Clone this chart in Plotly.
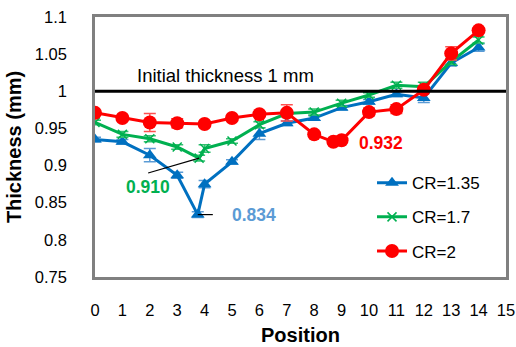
import plotly.graph_objects as go

# ---- data ----
x_135 = [0, 1, 2, 3, 3.75, 4, 5, 6, 7, 8, 9, 10, 11, 12, 13, 14]
y_135 = [0.935, 0.932, 0.914, 0.887, 0.834, 0.875, 0.905, 0.943, 0.957, 0.964,
         0.978, 0.986, 0.996, 0.991, 1.038, 1.059]
e_135 = [0.003, 0.003, 0.009, 0.004, 0.004, 0.005, 0.003, 0.008, 0.003, 0.003,
         0.003, 0.003, 0.003, 0.006, 0.004, 0.005]

x_17 = [0, 1, 2, 3, 3.8, 4, 5, 6, 7, 8, 9, 10, 11, 12, 13, 14]
y_17 = [0.958, 0.942, 0.936, 0.925, 0.910, 0.923, 0.933, 0.955, 0.970, 0.972,
        0.984, 0.995, 1.008, 1.006, 1.040, 1.069]
e_17 = [0.003, 0.004, 0.004, 0.003, 0.004, 0.005, 0.003, 0.004, 0.004, 0.004,
        0.004, 0.003, 0.004, 0.006, 0.004, 0.004]

x_2 = [0, 1, 2, 3, 4, 5, 6, 7, 8, 8.7, 9, 10, 11, 12, 13, 14]
y_2 = [0.971, 0.964, 0.958, 0.957, 0.956, 0.964, 0.969, 0.971, 0.942, 0.932,
       0.934, 0.972, 0.976, 1.002, 1.051, 1.082]
e_2 = [0.002, 0.002, 0.012, 0.006, 0.002, 0.002, 0.003, 0.011, 0.003, 0.003,
       0.003, 0.005, 0.006, 0.003, 0.009, 0.003]

series_names = ["CR=1.35", "CR=1.7", "CR=2"]
initial_thickness = 1.0
x_ticks = list(range(0, 16))
y_ticks = [0.75, 0.8, 0.85, 0.9, 0.95, 1, 1.05, 1.1]
y_tick_text = ["0.75", "0.8", "0.85", "0.9", "0.95", "1", "1.05", "1.1"]
x_title = "Position"
y_title = "Thickness (mm)"

FONT = "Liberation Sans, Arial, sans-serif"
BLUE, GREEN, RED = "#0070C0", "#00B050", "#FF0000"

fig = go.Figure()

def add(xs, ys, es, name, color, ecolor, marker, grp):
    fig.add_trace(go.Scatter(
        x=xs, y=ys, name=name, mode="lines+markers", legendgroup=grp,
        line=dict(color=color, width=3),
        marker=marker,
        error_y=dict(type="data", array=es, visible=True, color=ecolor,
                     thickness=1.5, width=6),
    ))

add(x_135, y_135, e_135, series_names[0], BLUE, "#5B9BD5",
    dict(symbol="triangle-up", size=12, color=BLUE), "a")
add(x_17, y_17, e_17, series_names[1], GREEN, "#33C070",
    dict(symbol="x-thin", size=9, line=dict(color=GREEN, width=1.5), color=GREEN), "b")
add(x_2, y_2, e_2, series_names[2], RED, "#FF5050",
    dict(symbol="circle", size=14, color=RED), "c")

# Initial thickness reference line
fig.add_shape(type="line", xref="paper", x0=0, x1=1, yref="y",
              y0=initial_thickness, y1=initial_thickness,
              line=dict(color="black", width=3))

# leader lines for minimum annotations
g_min = min(range(len(y_17)), key=lambda i: y_17[i])
b_min = min(range(len(y_135)), key=lambda i: y_135[i])
r_min = min(range(len(y_2)), key=lambda i: y_2[i])
fig.add_shape(type="line", xref="x", yref="y", x0=1.94, y0=0.890,
              x1=x_17[g_min], y1=y_17[g_min], line=dict(color="black", width=1.2))
fig.add_shape(type="line", xref="x", yref="y", x0=x_135[b_min], y0=y_135[b_min],
              x1=x_135[b_min] + 0.55, y1=y_135[b_min], line=dict(color="black", width=1.2))

fig.add_annotation(x=4.78, y=1.021, text="Initial thickness 1 mm", showarrow=False,
                   font=dict(family=FONT, size=18.5, color="black"))
fig.add_annotation(x=1.94, y=0.871, text=f"<b>{y_17[g_min]:.3f}</b>", showarrow=False,
                   font=dict(family=FONT, size=17.5, color=GREEN))
fig.add_annotation(x=5.81, y=0.833, text=f"<b>{y_135[b_min]:.3f}</b>", showarrow=False,
                   font=dict(family=FONT, size=17.5, color="#5B9BD5"))
fig.add_annotation(x=10.44, y=0.931, text=f"<b>{y_2[r_min]:.3f}</b>", showarrow=False,
                   font=dict(family=FONT, size=17.5, color=RED))

# x-axis title as annotation, sitting at the bottom edge of the canvas
fig.add_annotation(xref="paper", yref="paper", x=0.5, y=0, yanchor="bottom",
                   yshift=-70, borderpad=0, text=f"<b>{x_title}</b>", showarrow=False,
                   font=dict(family=FONT, size=20, color="black"))

axis_common = dict(showline=True, linecolor="#808080", linewidth=2.5, mirror=True,
                   showgrid=False, zeroline=False, ticks="",
                   tickfont=dict(family=FONT, size=16.5, color="black"))

fig.update_xaxes(range=[0, 15], tickvals=x_ticks, ticklabelstandoff=16,
                 **axis_common)
fig.update_yaxes(range=[0.75, 1.1], tickvals=y_ticks, ticktext=y_tick_text,
                 ticklabelstandoff=22,
                 title=dict(text=f"<b>{y_title}</b>", font=dict(family=FONT, size=20, color="black"),
                            standoff=8),
                 **axis_common)

fig.update_layout(
    width=516, height=347,
    margin=dict(l=95, r=10, t=17, b=70, autoexpand=False),
    plot_bgcolor="white", paper_bgcolor="white",
    font=dict(family=FONT, size=16.5, color="black"),
    legend=dict(x=0.674, y=0.43, xanchor="left", yanchor="top",
                bgcolor="rgba(0,0,0,0)", tracegroupgap=9,
                font=dict(family=FONT, size=17, color="black")),
)

fig.write_html("out.html")
